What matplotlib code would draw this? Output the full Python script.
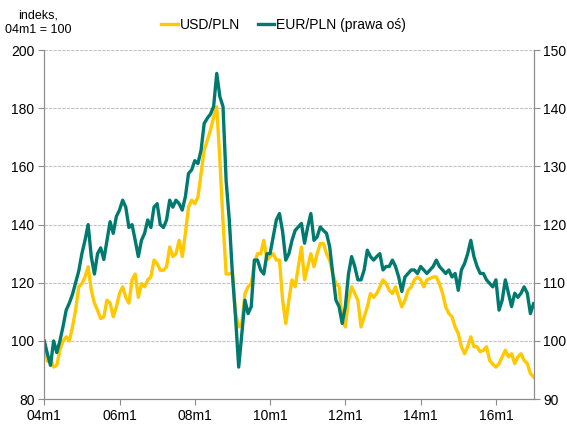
import numpy as np
import matplotlib
matplotlib.use("Agg")
import matplotlib.pyplot as plt

plt.rcParams['font.family'] = ['Liberation Sans', 'DejaVu Sans']

# monthly index values, 04m1 = 100
usd_pln = [
    100, 93, 94, 91, 91.6, 96.8, 100, 101.4, 100, 104.8, 110.6, 118.6,
    119.7, 122, 125.5, 117.4, 113, 110.5, 107.7, 108.3, 114, 113, 108.3, 111.7,
    116.3, 118.6, 115, 113, 121, 123, 115, 119.7, 118.6, 121, 122, 127.8,
    126.6, 124.3, 124.3, 125.5, 132.3, 129, 130, 134.6, 129, 137, 146, 148.4,
    147.2, 149.5, 157.6, 165.6, 169, 172.5, 177, 180.5, 162, 141, 123, 123,
    123.5, 109.4, 104.8, 106, 116.3, 118.6, 119.7, 126.6, 130, 130, 134.6, 127.8,
    129, 130, 127.8, 127.8, 114, 106, 114, 121, 118.6, 125.5, 132.3, 121,
    125.5, 130, 125.5, 130, 133.5, 133.5, 130, 127.8, 123, 119.7, 118.6, 107.1,
    104.8, 114, 118.6, 116.3, 114, 104.8, 108.3, 111.7, 116.3, 115, 116.3, 118.6,
    121, 119.7, 117.4, 116.3, 118.6, 115, 111.7, 114, 117.4, 118.6, 121, 122,
    121, 118.6, 121, 121.5, 122, 122, 119.7, 116.3, 111.7, 109.4, 108.3, 104.8,
    102.5, 98, 95.6, 98, 101.4, 98, 98, 96.3, 96.8, 98, 93.3, 92,
    91, 92.2, 94.5, 96.8, 94.5, 95.6, 92.2, 94.5, 95.6, 93.3, 92.2, 88.8,
    87.6,
]
eur_pln = [
    100, 97.8, 95.8, 100, 98, 100, 102.5, 105.3, 106.5, 108, 110, 112,
    115, 117.3, 120, 114.5, 111.5, 115, 116, 114, 117.3, 120.5, 118.5, 121.4,
    122.5, 124.2, 123, 119.5, 120, 117.3, 114.5, 117.3, 118.5, 120.8, 119.5, 123,
    123.6, 120, 119.5, 120.8, 124.2, 123, 124.2, 123.6, 122.5, 124.8, 128.8, 129.4,
    131, 130.5, 132.8, 137.4, 138.3, 139, 140.3, 146, 142, 140.3, 127.5, 120.8,
    111.5, 104, 95.5, 101.3, 107, 104.7, 105.9, 113.9, 113.9, 112.2, 111.5, 115,
    115, 117.9, 120.8, 121.9, 118.8, 113.9, 115, 117.3, 119, 119.6, 120.2, 116.8,
    119.6, 121.9, 117.3, 117.9, 119.6, 119, 118.5, 116.2, 111.5, 107, 105.9, 103,
    105.9, 111.5, 114.5, 112.8, 110.5, 110.5, 112.2, 115.6, 114.5, 113.9, 114.5, 115,
    112.2, 112.8, 112.8, 113.9, 112.8, 111, 108.5, 111, 111.6, 112.2, 112.2, 111.6,
    112.8, 112.2, 111.6, 112.2, 112.8, 113.9, 112.8, 112.2, 111.6, 112.2, 111, 111.6,
    108.7, 112.2, 113.3, 115, 117.3, 114.5, 112.8, 111.6, 111.6, 110.5, 109.9, 109.3,
    110.5, 105.3, 107, 110.5, 108.2, 105.9, 108.2, 107.5, 108.2, 109.3, 108.2, 104.7,
    106.4,
]
tick_years = [2004, 2006, 2008, 2010, 2012, 2014, 2016]
tick_labels = ['04m1', '06m1', '08m1', '10m1', '12m1', '14m1', '16m1']

t = 2004 + np.arange(len(usd_pln)) / 12

yellow = '#FFC800'
teal = '#007A6E'
grey = '#8C8C8C'

fig = plt.figure(figsize=(5.67, 4.25), dpi=100)
ax = fig.add_axes([0.078, 0.061, 0.863, 0.821])
ax2 = ax.twinx()

ax.grid(axis='y', color='#C4C4C4', lw=0.8, ls=(0, (3, 1)))
ax.set_axisbelow(True)

l1, = ax.plot(t, usd_pln, color=yellow, lw=2.4, label='USD/PLN')
l2, = ax2.plot(t, eur_pln, color=teal, lw=2.4, label='EUR/PLN (prawa oś)')

ax.set_xlim(2004, 2017)
ax.set_ylim(80, 200)
ax.set_yticks(range(80, 201, 20))
ax2.set_ylim(90, 150)
ax2.set_yticks(range(90, 151, 10))
ax.set_xticks(tick_years)
ax.set_xticklabels(tick_labels)

for a in (ax, ax2):
    a.spines['top'].set_visible(False)
    for s in ('left', 'right', 'bottom'):
        a.spines[s].set_color(grey)
    a.tick_params(colors=grey, labelcolor='black', labelsize=10, length=4,
                  width=0.8, pad=3)

fig.text(0.068, 0.978, 'indeks,\n04m1 = 100', ha='center', va='top',
         fontsize=9, linespacing=1.25)
fig.legend(handles=[l1, l2], loc='center', bbox_to_anchor=(0.5, 0.942),
           ncol=2, frameon=False, fontsize=10, handlelength=1.2,
           handletextpad=0.1, columnspacing=1.3)

fig.savefig('out.png', dpi=100)
